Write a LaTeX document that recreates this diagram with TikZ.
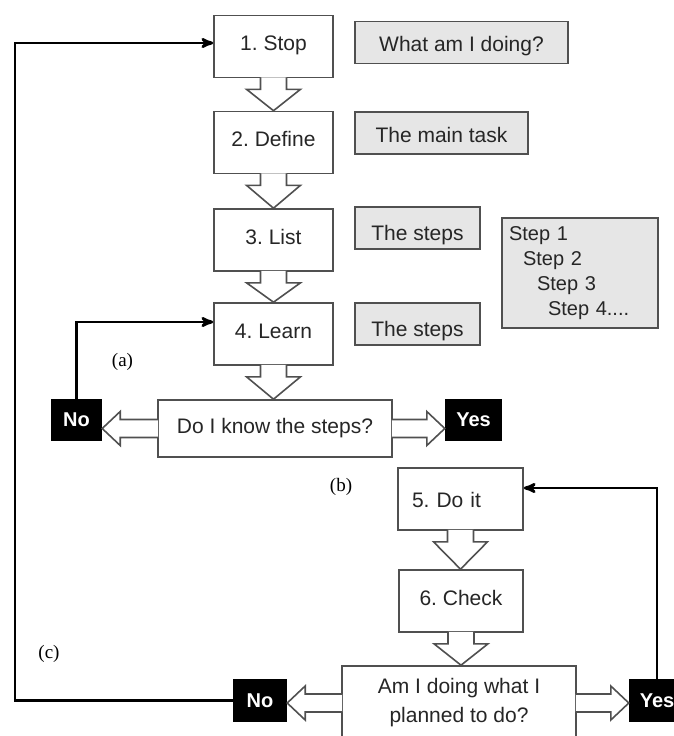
\documentclass[tikz,border=0pt]{standalone}
\usepackage{fontspec}
\setmainfont{Liberation Sans}
\newfontfamily\tagfont{Liberation Serif}
\usetikzlibrary{positioning,arrows,calc}
\frenchspacing

\definecolor{edgegray}{HTML}{505050}
\definecolor{notegray}{HTML}{E6E6E6}
\definecolor{inkgray}{HTML}{262626}

\tikzset{
  stepbox/.style={draw=edgegray, line width=1.6pt, fill=white, minimum width=119pt,
    inner sep=0pt, text height=35pt, text depth=27pt, text=inkgray,
    font=\fontsize{21}{25}\selectfont},
  note/.style={draw=edgegray, line width=1.6pt, fill=notegray, minimum height=42pt,
    inner sep=0pt, text height=31pt, text depth=11pt, text=inkgray,
    font=\fontsize{21}{25}\selectfont},
  question/.style={draw=edgegray, line width=1.6pt, fill=white, minimum width=234pt,
    align=center, inner sep=0pt, text=inkgray},
  answer/.style={fill=black, text=white, minimum height=42pt, inner sep=0pt,
    font=\bfseries\fontsize{20}{24}\selectfont},
  hollow/.style={draw=edgegray, line width=1.6pt, fill=white, line join=miter},
  flow/.style={->, >=stealth', line width=2.8pt},
  tag/.style={font=\tagfont\fontsize{19}{22}\selectfont}
}

% hollow block arrow from the bottom of #1 to the top of #2
\newcommand{\hollowdown}[2]{
  \draw[hollow] let \p1=(#1.south), \p2=(#2.north) in
    (\x1-13pt,\y1+1pt) -- (\x1-13pt,\y1-11pt) -- (\x1-27pt,\y1-11pt) -- (\x1,\y2)
    -- (\x1+27pt,\y1-11pt) -- (\x1+13pt,\y1-11pt) -- (\x1+13pt,\y1+1pt);
}
% hollow block arrow sideways, from anchor #1 to anchor #2
\newcommand{\hollowside}[2]{
  \draw[hollow] let \p1=(#1), \p2=(#2), \n1={sign(\x2-\x1)} in
    (\x1-\n1*1pt,\y1+9pt) -- (\x2-\n1*18pt,\y1+9pt) -- (\x2-\n1*18pt,\y1+17pt) -- (\x2,\y1)
    -- (\x2-\n1*18pt,\y1-17pt) -- (\x2-\n1*18pt,\y1-9pt) -- (\x1-\n1*1pt,\y1-9pt);
}

\begin{document}
\begin{tikzpicture}[x=1pt, y=-1pt]
  \useasboundingbox (0,0) rectangle (674,736);

  % main steps
  \node[stepbox] (stop) at (273.5,46.5) {1. Stop};
  \node[stepbox] (define) at (273.5,142.5) {2. Define};
  \node[stepbox] (list) at (273.5,240) {3. List};
  \node[stepbox] (learn) at (273.5,334) {4. Learn};
  \node[question, minimum height=57pt, font=\fontsize{21}{25}\selectfont] (know) at (275,428.5) {Do I know the steps?};
  \node[stepbox, minimum width=0pt, text width=97pt, inner xsep=14pt, align=left,
    text height=39pt, text depth=23pt] (doit) at (460.5,499) {5. Do it};
  \node[stepbox, minimum width=124pt] (check) at (461,601) {6. Check};
  \node[question, minimum height=74pt, font=\fontsize{21}{29}\selectfont] (planned) at (459,703) {Am I doing what I\\planned to do?};

  % answers
  \node[answer, minimum width=51pt] (no1) at (76.5,420) {No};
  \node[answer, minimum width=57pt] (yes1) at (473.5,420) {Yes};
  \node[answer, minimum width=54pt, minimum height=43pt] (no2) at (260,700.5) {No};
  \node[answer, minimum width=56pt, minimum height=43pt] (yes2) at (657,700.5) {Yes};

  % notes
  \node[note, minimum width=213pt, text height=30pt, text depth=12pt] (whatnote) at (461.5,42.5) {What am I doing?};
  \node[note, minimum width=173pt, text height=30pt, text depth=12pt] (tasknote) at (441.5,133) {The main task};
  \node[note, minimum width=125pt, text height=33pt, text depth=9pt] (stepsnote) at (417.5,228) {The steps};
  \node[note, minimum width=125pt, text height=33pt, text depth=9pt] (learnnote) at (417.5,324) {The steps};
  \node[note, text width=142pt, inner xsep=7pt, minimum height=110pt, align=left,
    text height=, text depth=, font=\fontsize{20}{25}\selectfont] (steplist) at (580,273)
    {Step 1\\\hspace*{14pt}Step 2\\\hspace*{28pt}Step 3\\\hspace*{39pt}Step 4....};

  % block arrows
  \hollowdown{stop}{define}
  \hollowdown{define}{list}
  \hollowdown{list}{learn}
  \hollowdown{learn}{know}
  \hollowdown{doit}{check}
  \hollowdown{check}{planned}
  \hollowside{know.west}{no1.east}
  \hollowside{know.east}{yes1.west}
  \hollowside{planned.west}{no2.east}
  \hollowside{planned.east}{yes2.west}

  % feedback lines
  \coordinate (loop) at (15,43);
  \draw[flow] (no1.north) |- ($(learn.west)+(0,-12)$);
  \draw[flow] (yes2.north) |- ($(doit.east)+(0,-11)$);
  \draw[flow] (no2.west) -| (loop) -- (loop -| stop.west);

  % panel tags
  \node[tag] (taga) at (122.5,362) {(a)};
  \node[tag] (tagb) at (341,487) {(b)};
  \node[tag] (tagc) at (49,654) {(c)};
\end{tikzpicture}
\end{document}
